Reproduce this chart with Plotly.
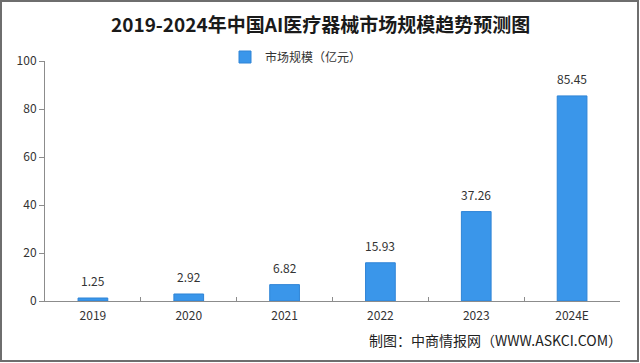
import plotly.graph_objects as go

years = ["2019", "2020", "2021", "2022", "2023", "2024E"]
values = [1.25, 2.92, 6.82, 15.93, 37.26, 85.45]
series_name = "市场规模（亿元）"
title_text = "2019-2024年中国AI医疗器械市场规模趋势预测图"
footer_text = "制图：中商情报网（WWW.ASKCI.COM）"

W, H = 640, 363
ml, mr, mt, mb = 45, 20, 61, 62
pw, ph = W - ml - mr, H - mt - mb

font_cjk = "Noto Sans CJK SC"

fig = go.Figure()
fig.add_trace(go.Bar(
    x=years, y=values, name=series_name,
    marker=dict(color="#3a96ea", line=dict(color="#2f84d6", width=1)),
    width=0.31, showlegend=True,
))

for i, v in enumerate(values):
    fig.add_annotation(x=i, y=v, text=f"{v:.2f}", showarrow=False,
                       yanchor="bottom", yshift=7,
                       font=dict(family=font_cjk, size=12, color="#333333"))

fig.add_annotation(xref="paper", yref="paper", x=0.5 + (W / 2 - ml - pw / 2) / pw,
                   y=1 + (mt - 24) / ph, text=f"<b>{title_text}</b>", showarrow=False,
                   xanchor="center", yanchor="middle",
                   font=dict(family=font_cjk, size=19, color="#1a1a1a"))

fig.add_annotation(xref="paper", yref="paper", x=(624 - ml) / pw,
                   y=-(340 - (mt + ph)) / ph, text=footer_text, showarrow=False,
                   xanchor="right", yanchor="middle",
                   font=dict(family=font_cjk, size=14, color="#222222"))

# outer frame
fig.add_shape(type="rect", xref="paper", yref="paper",
              x0=-(ml - 1) / pw, x1=1 + (mr - 2) / pw,
              y0=-(mb - 2) / ph, y1=1 + (mt - 1) / ph,
              line=dict(color="#6e6e6e", width=2), fillcolor="rgba(0,0,0,0)", layer="below")

fig.update_layout(
    width=W, height=H,
    margin=dict(l=ml, r=mr, t=mt, b=mb),
    paper_bgcolor="white", plot_bgcolor="white",
    font=dict(family=font_cjk, size=12, color="#333333"),
    legend=dict(orientation="h", x=(296 - ml) / pw, xanchor="center",
                y=1 + (mt - 57) / ph, yanchor="middle",
                font=dict(family=font_cjk, size=12, color="#333333"),
                bgcolor="rgba(0,0,0,0)", itemwidth=30),
    xaxis=dict(type="category", showline=True, linecolor="#8c8c8c", linewidth=1,
               ticks="inside", tickson="boundaries", ticklen=4, tickcolor="#8c8c8c",
               showgrid=False, tickfont=dict(family=font_cjk, size=12, color="#333333"),
               ticklabelstandoff=4, range=[-0.5, 5.5]),
    yaxis=dict(range=[0, 100], dtick=20, showline=True, linecolor="#8c8c8c", linewidth=1,
               ticks="outside", ticklen=5, tickcolor="#8c8c8c", showgrid=False,
               zeroline=False, tickfont=dict(family=font_cjk, size=12, color="#333333")),
    bargap=0.69,
)

fig.write_html("out.html", config={"displayModeBar": False},
               post_script="document.body.style.margin='0';document.body.style.overflow='hidden';")
